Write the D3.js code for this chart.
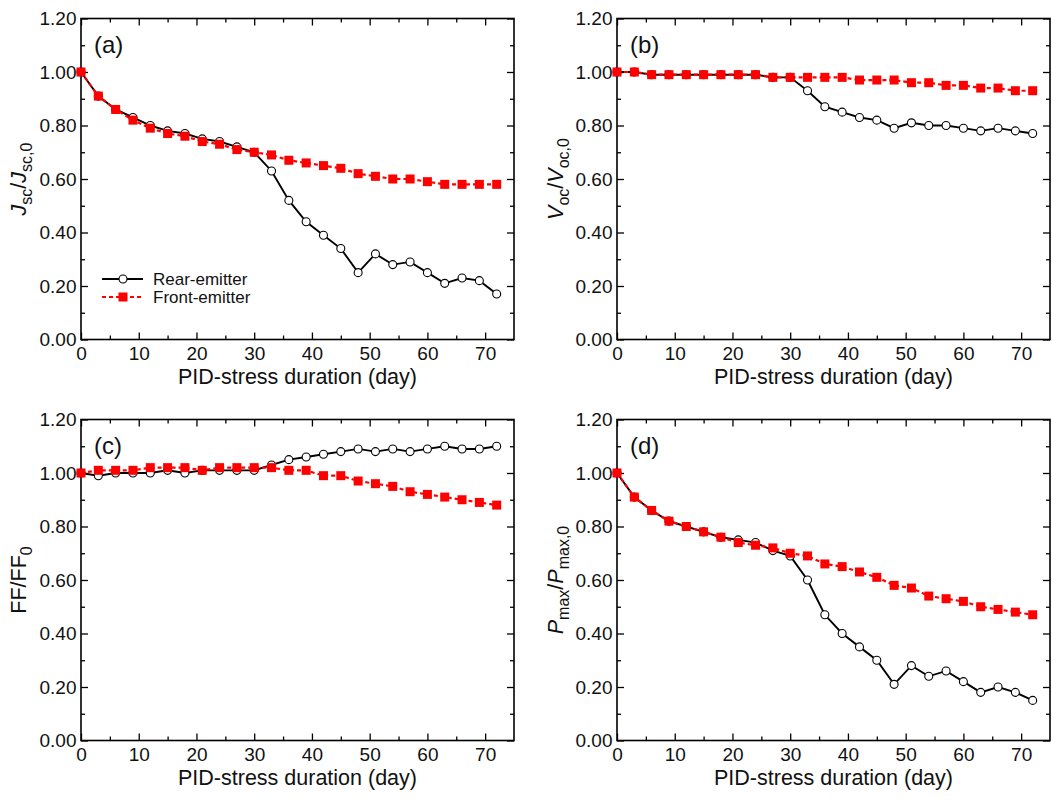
<!DOCTYPE html>
<html><head><meta charset="utf-8">
<script src="https://cdn.jsdelivr.net/npm/d3@7"></script>
<style>body{margin:0;background:#fff}svg{font-family:"Liberation Sans",Arial,Helvetica,sans-serif}</style>
</head><body><svg id="c" width="1052" height="801"></svg>
<script>
const days = [0,3,6,9,12,15,18,21,24,27,30,33,36,39,42,45,48,51,54,57,60,63,66,69,72];
const jscRear  = [1.00,0.91,0.86,0.83,0.80,0.78,0.77,0.75,0.74,0.72,0.70,0.63,0.52,0.44,0.39,0.34,0.25,0.32,0.28,0.29,0.25,0.21,0.23,0.22,0.17];
const jscFront = [1.00,0.91,0.86,0.82,0.79,0.77,0.76,0.74,0.73,0.71,0.70,0.69,0.67,0.66,0.65,0.64,0.62,0.61,0.60,0.60,0.59,0.58,0.58,0.58,0.58];
const vocRear  = [1.00,1.00,0.99,0.99,0.99,0.99,0.99,0.99,0.99,0.98,0.98,0.93,0.87,0.85,0.83,0.82,0.79,0.81,0.80,0.80,0.79,0.78,0.79,0.78,0.77];
const vocFront = [1.00,1.00,0.99,0.99,0.99,0.99,0.99,0.99,0.99,0.98,0.98,0.98,0.98,0.98,0.97,0.97,0.97,0.96,0.96,0.95,0.95,0.94,0.94,0.93,0.93];
const ffRear   = [1.00,0.99,1.00,1.00,1.00,1.01,1.00,1.01,1.01,1.01,1.01,1.03,1.05,1.06,1.07,1.08,1.09,1.08,1.09,1.08,1.09,1.10,1.09,1.09,1.10];
const ffFront  = [1.00,1.01,1.01,1.01,1.02,1.02,1.02,1.01,1.02,1.02,1.02,1.02,1.01,1.01,0.99,0.99,0.97,0.96,0.95,0.93,0.92,0.91,0.90,0.89,0.88];
const pRear    = [1.00,0.91,0.86,0.82,0.80,0.78,0.76,0.75,0.74,0.71,0.69,0.60,0.47,0.40,0.35,0.30,0.21,0.28,0.24,0.26,0.22,0.18,0.20,0.18,0.15];
const pFront   = [1.00,0.91,0.86,0.82,0.80,0.78,0.76,0.74,0.73,0.72,0.70,0.69,0.66,0.65,0.63,0.61,0.58,0.57,0.54,0.53,0.52,0.50,0.49,0.48,0.47];
const yTicks = [0,0.2,0.4,0.6,0.8,1.0,1.2];
const xTicks = [0,10,20,30,40,50,60,70];
const panelLabels = ["(a)","(b)","(c)","(d)"];
const seriesNames = ["Rear-emitter","Front-emitter"];
const xTitle = "PID-stress duration (day)";

const svg = d3.select("#c");
const W = 433, H = 321;
const panels = [
  {x0:81, y0:18.5, rear:jscRear, front:jscFront, lab:panelLabels[0], tx:-55, title:[["J","i",0],["sc","n",1],["/",  "n",0],["J","i",0],["sc,0","n",1]], legend:true},
  {x0:617,y0:18.5, rear:vocRear, front:vocFront, lab:panelLabels[1], tx:-54, title:[["V","i",0],["oc","n",1],["/","n",0],["V","i",0],["oc,0","n",1]]},
  {x0:81, y0:419.5,rear:ffRear,  front:ffFront,  lab:panelLabels[2], tx:-55, title:[["FF/FF","n",0],["0","n",1]]},
  {x0:617,y0:419.5,rear:pRear,   front:pFront,   lab:panelLabels[3], tx:-54, title:[["P","i",0],["max","n",1],["/","n",0],["P","i",0],["max,0","n",1]]}
];

panels.forEach(p=>{
  const g = svg.append("g").attr("transform",`translate(${p.x0},${p.y0})`);
  const x = d3.scaleLinear().domain([0,75]).range([0,W]);
  const y = d3.scaleLinear().domain([0,1.2]).range([H,0]);
  const minorX = d3.range(5,75,10), minorY = d3.range(0.1,1.2,0.2);
  g.append("g").attr("transform",`translate(0,${H})`)
    .call(d3.axisBottom(x).tickValues(xTicks).tickSizeInner(-7).tickSizeOuter(0).tickPadding(7));
  g.append("g").attr("transform",`translate(0,${H})`).call(d3.axisBottom(x).tickValues(minorX).tickSizeInner(-4).tickSizeOuter(0).tickFormat(""));
  g.append("g").call(d3.axisTop(x).tickValues(xTicks).tickSizeInner(-7).tickSizeOuter(0).tickFormat(""));
  g.append("g").call(d3.axisTop(x).tickValues(minorX).tickSizeInner(-4).tickSizeOuter(0).tickFormat(""));
  g.append("g").call(d3.axisLeft(y).tickValues(yTicks).tickSizeInner(-7).tickSizeOuter(0).tickPadding(4.5).tickFormat(d3.format(".2f")));
  g.append("g").call(d3.axisLeft(y).tickValues(minorY).tickSizeInner(-4).tickSizeOuter(0).tickFormat(""));
  g.append("g").attr("transform",`translate(${W},0)`).call(d3.axisRight(y).tickValues(yTicks).tickSizeInner(-7).tickSizeOuter(0).tickFormat(""));
  g.append("g").attr("transform",`translate(${W},0)`).call(d3.axisRight(y).tickValues(minorY).tickSizeInner(-4).tickSizeOuter(0).tickFormat(""));
  g.selectAll(".domain").remove();
  g.selectAll(".tick line").attr("stroke","#000").attr("stroke-width",1.3);
  g.selectAll(".tick text").attr("font-size",19).attr("fill","#111").attr("font-family","Liberation Sans, Arial, sans-serif");
  g.append("rect").attr("width",W).attr("height",H).attr("fill","none").attr("stroke","#000").attr("stroke-width",1.6);

  const line = d3.line().x((d,i)=>x(days[i])).y(d=>y(d));
  g.append("path").datum(p.rear).attr("d",line).attr("fill","none").attr("stroke","#000").attr("stroke-width",1.9);
  g.append("path").datum(p.front).attr("d",line).attr("fill","none").attr("stroke","#f00").attr("stroke-width",2.2).attr("stroke-dasharray","4,3");
  g.selectAll(".rc").data(p.rear).enter().append("circle").attr("cx",(d,i)=>x(days[i])).attr("cy",d=>y(d)).attr("r",4)
    .attr("fill","#fff").attr("stroke","#000").attr("stroke-width",1.1);
  g.selectAll(".fs").data(p.front).enter().append("rect").attr("x",(d,i)=>x(days[i])-4.5).attr("y",d=>y(d)-4.5).attr("width",9).attr("height",9).attr("fill","#f00");

  g.append("text").attr("x",13).attr("y",34).attr("font-size",24).attr("fill","#111").text(p.lab);
  g.append("text").attr("x",W/2).attr("y",H+44).attr("text-anchor","middle").attr("font-size",21.5).attr("fill","#111").text(xTitle);
  const t = g.append("text").attr("transform",`translate(${p.tx},${H/2}) rotate(-90)`).attr("text-anchor","middle").attr("font-size",21.5).attr("fill","#111");
  let prevSub = 0;
  p.title.forEach(([s,st,sub])=>{
    const sp = t.append("tspan").text(s);
    if(st==="i") sp.attr("font-style","italic");
    if(sub){ sp.attr("font-size",16); }
    const dy = (sub?6:0) - (prevSub?6:0);
    if(dy) sp.attr("dy",dy);
    prevSub = sub;
  });

  if(p.legend){
    const ly = [260.5,278.5];
    const lg = g.append("g");
    lg.append("line").attr("x1",21).attr("x2",62).attr("y1",ly[0]).attr("y2",ly[0]).attr("stroke","#000").attr("stroke-width",1.9);
    lg.append("circle").attr("cx",42).attr("cy",ly[0]).attr("r",4).attr("fill","#fff").attr("stroke","#000").attr("stroke-width",1.1);
    lg.append("line").attr("x1",21).attr("x2",62).attr("y1",ly[1]).attr("y2",ly[1]).attr("stroke","#f00").attr("stroke-width",2.2).attr("stroke-dasharray","4,3");
    lg.append("rect").attr("x",37.5).attr("y",ly[1]-4.5).attr("width",9).attr("height",9).attr("fill","#f00");
    seriesNames.forEach((n,i)=>lg.append("text").attr("x",72).attr("y",ly[i]+6).attr("font-size",17).attr("fill","#111").text(n));
  }
});
</script></body></html>
